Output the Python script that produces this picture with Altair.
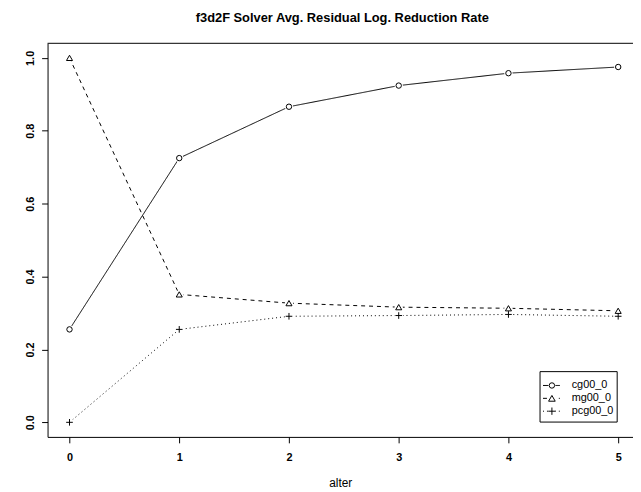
import altair as alt
import pandas as pd

# ---- data ----
iterations = [0, 1, 2, 3, 4, 5]
series_names = ["cg00_0", "mg00_0", "pcg00_0"]
cg_values = [0.255, 0.725, 0.866, 0.924, 0.958, 0.975]
mg_values = [1.0, 0.351, 0.327, 0.316, 0.313, 0.306]
pcg_values = [0.0, 0.255, 0.291, 0.293, 0.296, 0.291]
x_ticks = [0, 1, 2, 3, 4, 5]
y_ticks = [0.0, 0.2, 0.4, 0.6, 0.8, 1.0]
title_text = "f3d2F Solver Avg. Residual Log. Reduction Rate"
x_title = "alter"

rows = []
for name, vals in zip(series_names, [cg_values, mg_values, pcg_values]):
    for it, v in zip(iterations, vals):
        rows.append({"iter": it, "value": v, "series": name})
df = pd.DataFrame(rows)

FONT = "Liberation Sans"
W, H = 592, 398
dash_range = [[1, 0], [4, 4], [1, 3]]
shape_range = ["circle", "triangle-up", "M-1,0H1M0,-1V1"]
size_range = [30, 45, 55]

xs = alt.Scale(domain=[-0.2, 5.135], nice=False, zero=False)
ys = alt.Scale(domain=[-0.04, 1.04], nice=False, zero=False)

x_enc = alt.X("iter:Q", scale=xs, axis=alt.Axis(
    values=x_ticks, format="d", title=x_title, grid=False,
    domain=True, domainColor="black", domainWidth=1,
    ticks=True, tickColor="black", tickSize=6, tickWidth=1,
    labelFont=FONT, labelFontSize=11, labelFontWeight="bold", labelColor="black",
    labelPadding=9, labelFlush=False, labelOverlap=False,
    titleFont=FONT, titleFontSize=12, titleFontWeight="normal", titleColor="black",
    titlePadding=15))
y_enc = alt.Y("value:Q", scale=ys, axis=alt.Axis(
    values=y_ticks, format=".1f", title=None, grid=False,
    domain=True, domainColor="black", domainWidth=1,
    ticks=True, tickColor="black", tickSize=6, tickWidth=1,
    labelFont=FONT, labelFontSize=11, labelFontWeight="bold", labelColor="black",
    labelAngle=-90, labelAlign="center", labelBaseline="bottom",
    labelPadding=6, labelFlush=False, labelOverlap=False))

base = alt.Chart(df)

lines = base.mark_line(color="black", strokeWidth=1).encode(
    x=x_enc, y=y_enc,
    strokeDash=alt.StrokeDash("series:N", scale=alt.Scale(domain=series_names, range=dash_range), legend=None),
    detail="series:N",
)

masks = base.mark_point(filled=True, color="white", opacity=1, size=70, shape="circle", strokeWidth=0).encode(
    x=alt.X("iter:Q", scale=xs), y=alt.Y("value:Q", scale=ys))

symbols = base.mark_point(filled=False, color="black", strokeWidth=1, opacity=1).encode(
    x=alt.X("iter:Q", scale=xs), y=alt.Y("value:Q", scale=ys),
    shape=alt.Shape("series:N", scale=alt.Scale(domain=series_names, range=shape_range), legend=None),
    size=alt.Size("series:N", scale=alt.Scale(domain=series_names, range=size_range), legend=None),
)

frame_df = pd.DataFrame({"k": [0]})
top_rule = alt.Chart(frame_df).mark_rule(color="black", strokeWidth=1).encode(
    x=alt.value(0), x2=alt.value(W), y=alt.value(0))

# legend box
leg_box = alt.Chart(frame_df).mark_rect(fill="white", stroke="black", strokeWidth=1).encode(
    x=alt.value(498), x2=alt.value(576), y=alt.value(332), y2=alt.value(383))

legend_layers = [leg_box]
leg_y = [346, 359, 372]
for name, yy, dash, shp, sz in zip(series_names, leg_y, dash_range, shape_range, size_range):
    d = pd.DataFrame({"series": [name]})
    legend_layers.append(alt.Chart(d).mark_rule(color="black", strokeWidth=1, strokeDash=dash).encode(
        x=alt.value(501), x2=alt.value(518), y=alt.value(yy)))
    legend_layers.append(alt.Chart(d).mark_point(filled=True, color="white", size=50, shape="circle", strokeWidth=0, opacity=1).encode(
        x=alt.value(510), y=alt.value(yy)))
    legend_layers.append(alt.Chart(d).mark_point(filled=False, color="black", strokeWidth=1, shape=shp, size=sz, opacity=1).encode(
        x=alt.value(510), y=alt.value(yy)))
    legend_layers.append(alt.Chart(d).mark_text(align="left", baseline="middle", font=FONT, fontSize=11, color="black").encode(
        x=alt.value(530), y=alt.value(yy), text="series:N"))

chart = alt.layer(lines, masks, symbols, top_rule, *legend_layers).properties(
    width=W, height=H,
    title=alt.TitleParams(title_text, font=FONT, fontSize=13, fontWeight="bold", color="black",
                          anchor="middle", frame="group", dx=2, offset=18),
    autosize=alt.AutoSizeParams(type="none"),
    padding={"left": 40, "top": 33, "right": 0, "bottom": 52},
    background="white",
).configure_view(strokeWidth=0)

chart.save("out.html", embed_options={"renderer": "svg", "actions": False})
